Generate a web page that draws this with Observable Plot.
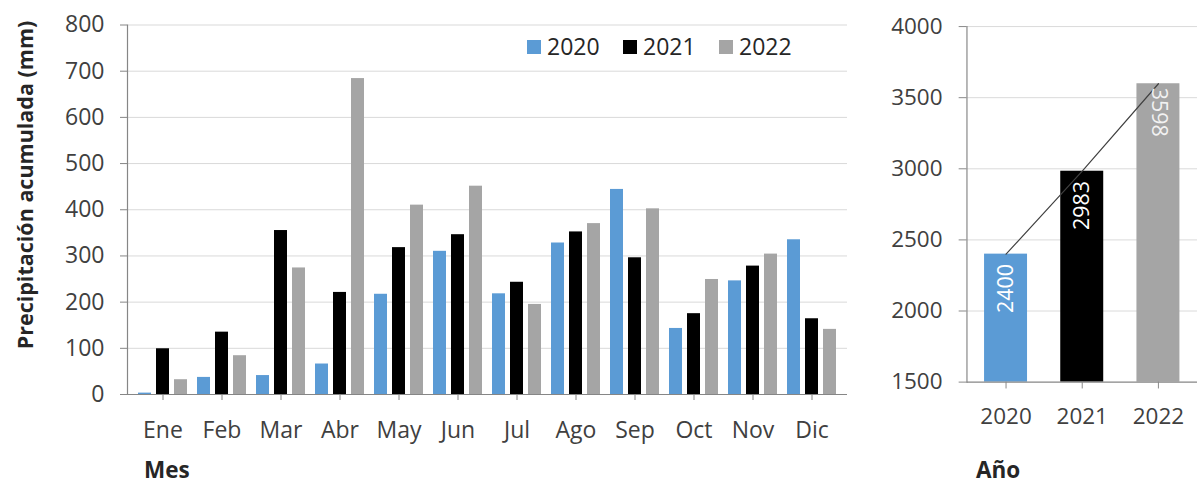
<!DOCTYPE html>
<html><head><meta charset="utf-8">
<script src="https://cdn.jsdelivr.net/npm/d3@7"></script>
<script src="https://cdn.jsdelivr.net/npm/@observablehq/plot@0.6"></script>
<style>
html,body{margin:0;padding:0;background:#fff;overflow:hidden;}
#wrap{position:relative;width:1197px;height:488px;overflow:hidden;font-family:"Open Sans",sans-serif;color:#404040;}
#left{position:absolute;left:0;top:0;}
#right{position:absolute;left:860px;top:0;}
.lab{position:absolute;font-weight:bold;font-size:22.5px;color:#262626;white-space:nowrap;line-height:1;}
#ytitle{left:25px;top:185px;transform:translate(-50%,-50%) rotate(-90deg);font-size:21.5px;}
#legend{position:absolute;left:527px;top:35px;display:flex;font-size:23px;color:#262626;line-height:1;}
#legend .it{display:flex;align-items:center;width:96px;}
#legend .sw{width:14px;height:14px;margin-right:6px;}
</style></head>
<body>
<div id="wrap">
  <div id="left"></div>
  <div id="right"></div>
  <div id="ytitle" class="lab">Precipitación acumulada (mm)</div>
  <div id="xtitle1" class="lab" style="left:144px;top:459px;">Mes</div>
  <div id="xtitle2" class="lab" style="left:976px;top:459px;">Año</div>
  <div id="legend"></div>
</div>
<script>
const months = ["Ene","Feb","Mar","Abr","May","Jun","Jul","Ago","Sep","Oct","Nov","Dic"];
const years = ["2020","2021","2022"];
const colors = ["#5b9bd5","#000000","#a5a5a5"];
const p2020 = [3, 37, 41, 66, 217, 310, 218, 328, 444, 143, 246, 335];
const p2021 = [99, 135, 355, 221, 318, 346, 243, 352, 296, 175, 278, 164];
const p2022 = [32, 84, 274, 684, 410, 451, 195, 370, 402, 249, 304, 141];
const annualTotals = [2400, 2983, 3598];
const yTicksLeft = [0,100,200,300,400,500,600,700,800];
const yTicksRight = [1500,2000,2500,3000,3500,4000];

const series = [p2020, p2021, p2022];
const monthly = years.map((yr, i) => months.map((m, j) => ({month: m, year: yr, value: series[i][j]})));
const annual = years.map((yr, i) => ({year: yr, value: annualTotals[i]}));
const yMinRight = yTicksRight[0];

const font = {fontFamily: "'Open Sans', sans-serif", fontSize: "23px", color: "#404040", background: "transparent"};

const left = Plot.plot({
  width: 860, height: 488,
  marginLeft: 127, marginRight: 13, marginTop: 24.5, marginBottom: 94,
  style: font,
  x: {domain: months, paddingInner: 0.783, paddingOuter: 0.392, axis: null},
  y: {domain: [0, 800], axis: null},
  marks: [
    Plot.ruleY(yTicksLeft.slice(1), {stroke: "#d9d9d9", strokeWidth: 1}),
    Plot.barY(monthly[0], {x: "month", y: "value", fill: colors[0], dx: -18}),
    Plot.barY(monthly[1], {x: "month", y: "value", fill: colors[1]}),
    Plot.barY(monthly[2], {x: "month", y: "value", fill: colors[2], dx: 18}),
    Plot.ruleY([0], {stroke: "#868686", strokeWidth: 1.2}),
    Plot.frame({anchor: "left", stroke: "#868686", strokeWidth: 1.2}),
    Plot.axisY({ticks: yTicksLeft, tickFormat: d => String(d), tickSize: 7, tickPadding: 16, stroke: "#868686", fill: "#404040", label: null}),
    Plot.axisX({tickSize: 6, tickPadding: 21, stroke: "#868686", fill: "#404040", label: null})
  ]
});
document.getElementById("left").appendChild(left);

const right = Plot.plot({
  width: 345, height: 488,
  marginLeft: 109, marginRight: 0, marginTop: 26.7, marginBottom: 97.3,
  style: font,
  x: {domain: years, paddingInner: 0.44, paddingOuter: 0.225, axis: null},
  y: {domain: [1500, 4000], axis: null},
  color: {domain: years, range: colors},
  marks: [
    Plot.ruleY(yTicksRight.slice(1), {stroke: "#d9d9d9", strokeWidth: 1}),
    Plot.barY(annual, {x: "year", y1: yMinRight, y2: "value", fill: "year"}),
    Plot.line(annual, {x: "year", y: "value", stroke: "#404040", strokeWidth: 1.2}),
    Plot.text(annual.filter(d => d.year !== "2022"), {x: "year", y: "value", text: d => String(d.value), rotate: -90, textAnchor: "end", dy: 10, fill: "#ffffff", fontSize: 22}),
    Plot.text(annual.filter(d => d.year === "2022"), {x: "year", y: "value", text: d => String(d.value), rotate: 90, textAnchor: "start", dy: 4, fill: "#f2f2f2", fontSize: 22}),
    Plot.ruleY([yMinRight], {stroke: "#868686", strokeWidth: 1.2}),
    Plot.frame({anchor: "left", stroke: "#868686", strokeWidth: 1.2}),
    Plot.axisY({ticks: yTicksRight, tickFormat: d => String(d), tickSize: 8, tickPadding: 17, stroke: "#868686", fill: "#404040", label: null}),
    Plot.axisX({tickSize: 7, tickPadding: 20, stroke: "#868686", fill: "#404040", label: null})
  ]
});
document.getElementById("right").appendChild(right);

const legend = document.getElementById("legend");
years.forEach((yr, i) => {
  const it = document.createElement("div"); it.className = "it";
  const sw = document.createElement("div"); sw.className = "sw"; sw.style.background = colors[i];
  const t = document.createElement("span"); t.textContent = yr;
  it.appendChild(sw); it.appendChild(t); legend.appendChild(it);
});
</script>
</body></html>
